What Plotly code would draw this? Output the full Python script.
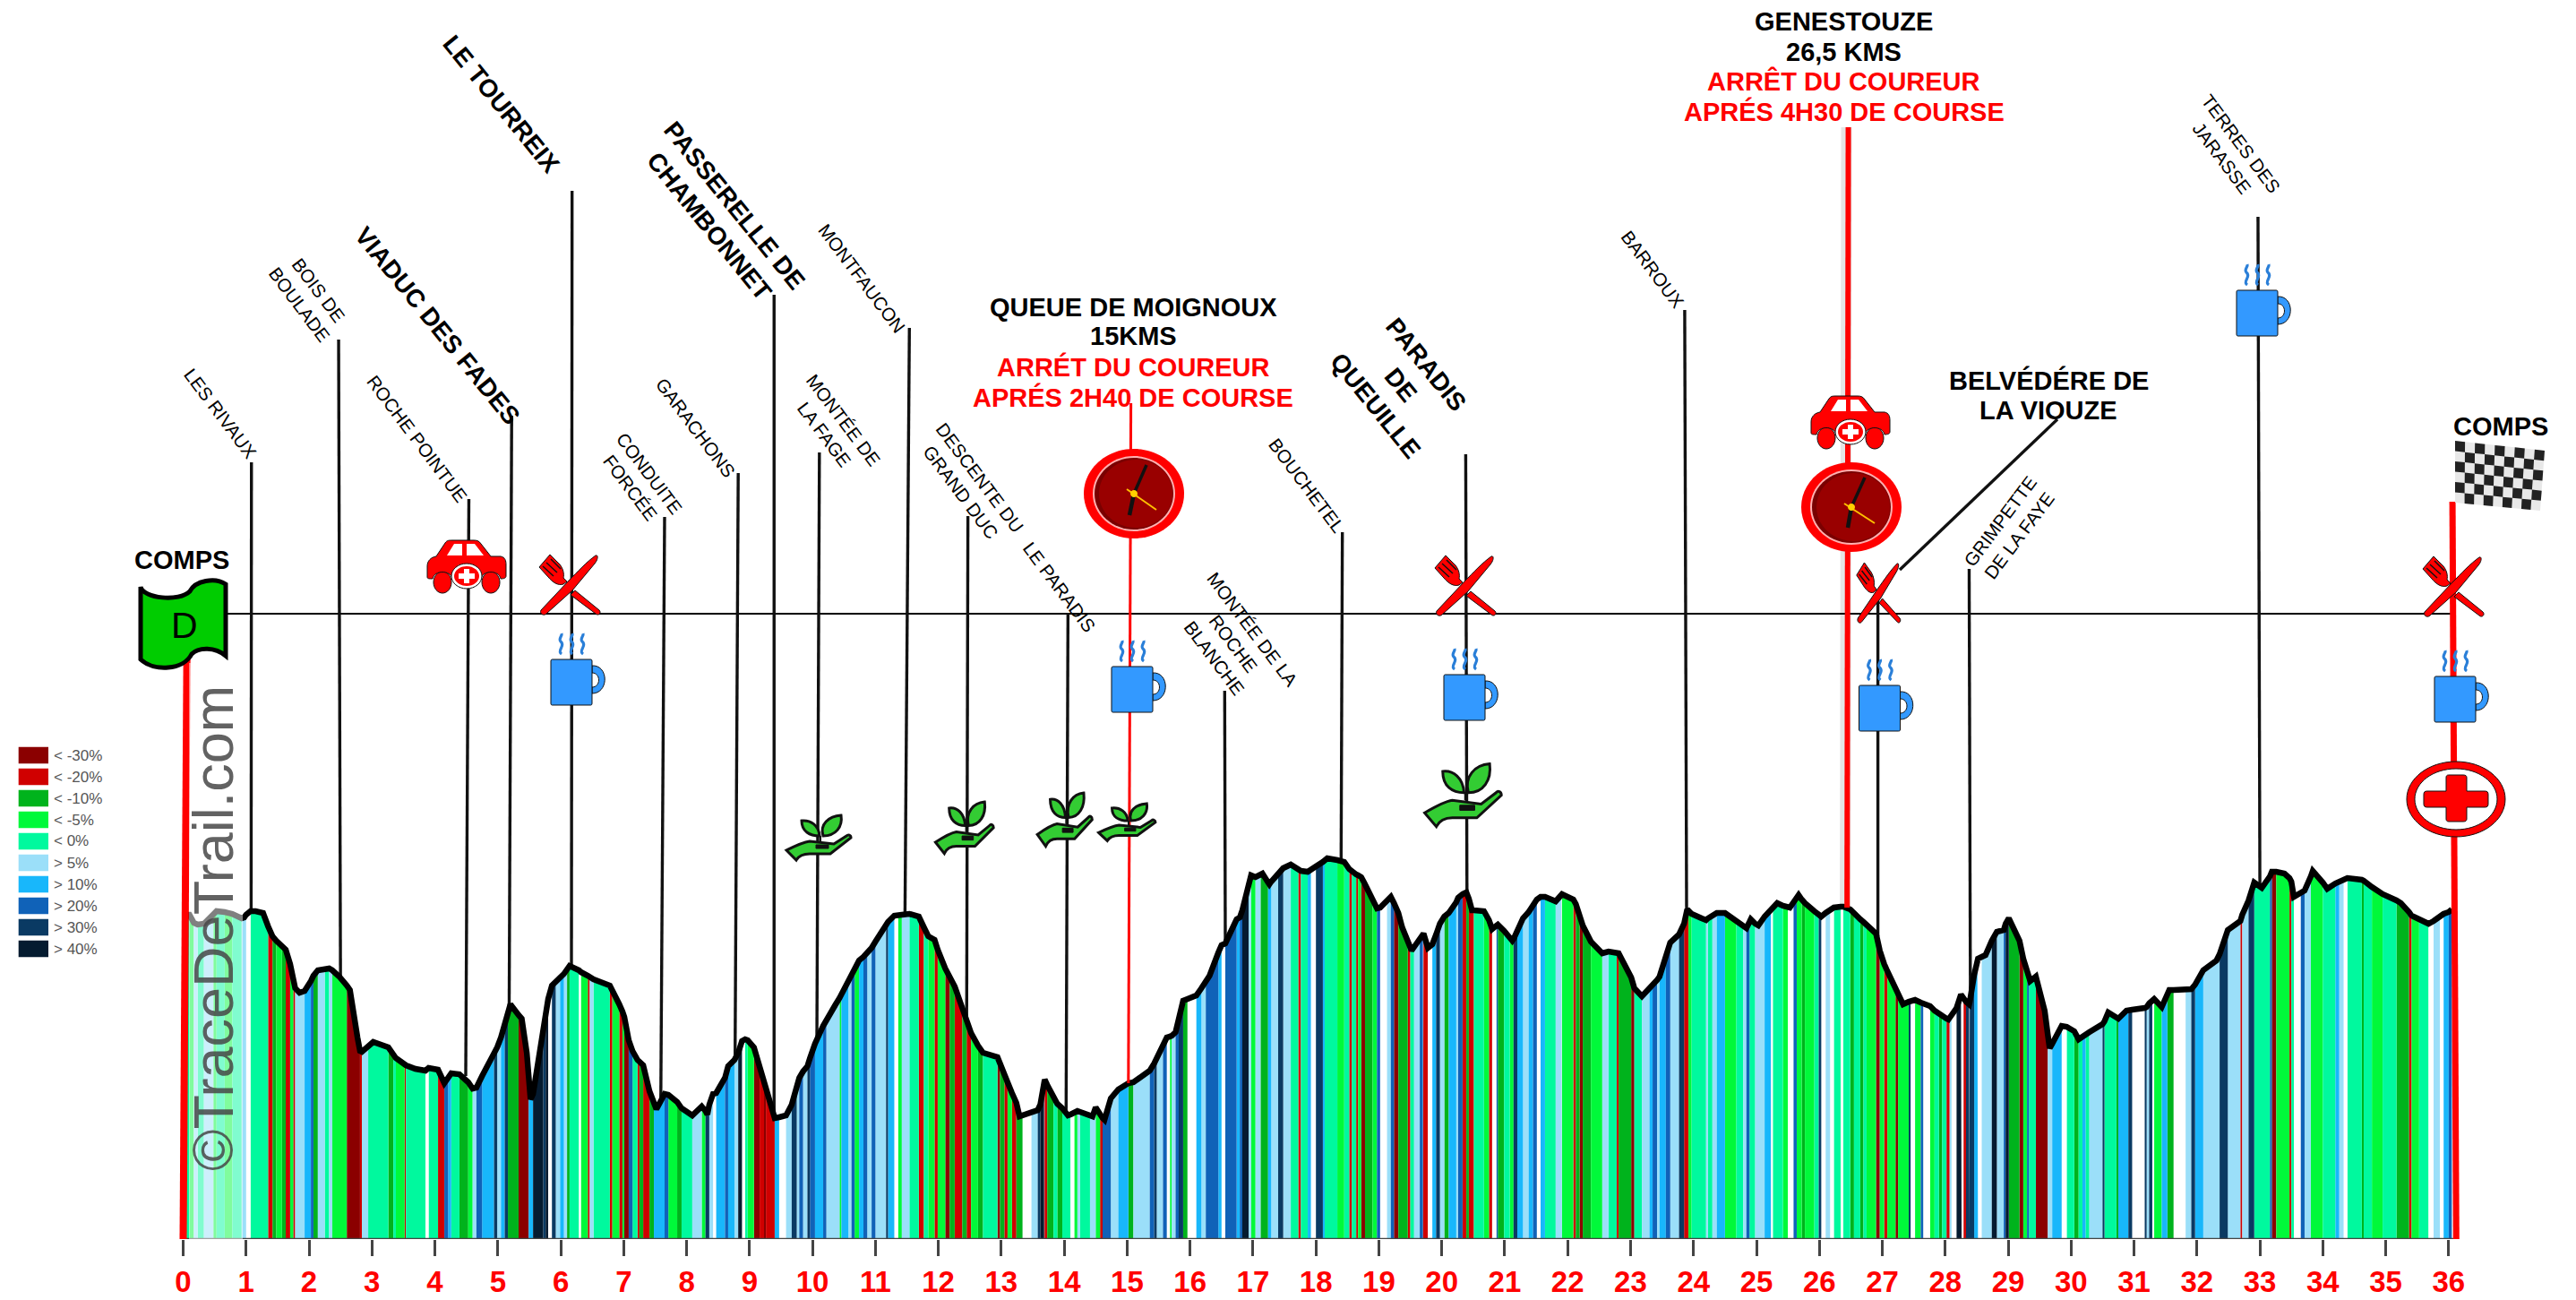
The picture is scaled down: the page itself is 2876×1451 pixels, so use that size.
import plotly.graph_objects as go

W, H, PLOT_H = 2876, 1451, 1383
PX_KM, PX_0 = 70.26, 204.5
FONT = "Liberation Sans"

# ---- profile: end of each stretch (km), altitude there, slope class of the stretch
km = [
 0.00,0.10,0.17,0.23,0.33,0.48,0.53,0.66,0.78,0.93,
 0.97,1.00,1.07,1.15,1.27,1.35,1.42,1.48,1.57,1.63,
 1.70,1.75,1.78,1.85,1.93,
 2.03,2.07,2.14,2.25,2.32,2.37,2.48,2.60,2.65,2.77,
 2.81,2.84,2.94,3.02,3.26,3.34,3.38,3.52,3.54,3.69,
 3.85,3.90,4.05,4.15,4.21,4.26,4.39,4.53,4.60,4.66,
 4.75,4.94,4.99,5.05,5.11,5.16,5.20,5.33,5.38,5.46,
 5.49,5.52,5.56,5.72,5.76,5.80,5.86,5.92,5.99,6.05,
 6.10,6.14,6.29,6.32,6.43,6.46,6.52,6.78,6.82,6.93,
 6.98,7.01,7.08,7.14,7.22,7.25,7.31,7.41,7.48,7.52,
 7.65,7.71,7.85,7.92,8.09,8.24,8.30,8.33,8.36,8.42,
 8.47,8.61,8.66,8.76,8.82,8.88,8.93,8.97,9.07,9.16,
 9.23,9.26,9.33,9.40,9.47,9.58,9.67,9.75,9.79,9.85,
 9.92,9.96,10.04,10.17,10.22,10.36,10.43,10.46,10.57,10.62,
 10.67,10.74,10.81,10.87,10.94,11.00,11.17,11.20,11.30,11.36,
 11.42,11.54,11.69,11.77,11.84,11.94,11.99,12.11,12.18,12.26,
 12.38,12.45,12.52,12.63,12.71,12.94,12.98,13.05,13.10,13.17,
 13.24,13.29,13.34,13.48,13.58,13.62,13.68,13.69,13.73,13.83,
 13.89,13.97,14.06,14.10,14.16,14.21,14.25,14.41,14.45,14.50,
 14.57,14.61,14.64,14.74,14.86,15.02,15.10,15.24,15.36,15.43,
 15.47,15.57,15.63,15.68,15.71,15.77,15.82,15.89,15.96,16.10,
 16.18,16.25,16.31,16.45,16.50,16.56,16.68,16.74,
 16.79,16.83,16.93,16.97,17.04,17.12,17.15,17.24,17.26,17.29,
 17.40,17.48,17.60,17.72,17.76,17.87,17.92,18.00,18.11,18.14,
 18.18,18.34,18.45,18.53,18.57,18.64,18.67,18.72,18.78,18.90,
 18.97,19.02,19.13,19.19,19.24,19.31,19.37,19.46,19.50,19.52,
 19.56,19.65,19.70,19.71,19.78,19.85,19.91,19.97,20.04,20.11,
 20.23,20.26,20.33,20.39,20.43,20.48,20.51,20.67,20.75,20.80,
 20.87,20.89,20.99,21.08,21.12,21.14,21.20,21.29,21.38,21.45,
 21.51,21.57,21.64,21.81,21.90,21.91,22.09,22.13,22.19,22.24,
 22.37,22.55,22.65,22.78,22.81,23.01,23.06,23.18,23.30,23.35,
 23.42,23.46,23.56,23.63,23.77,23.85,23.90,23.92,23.97,24.13,
 24.20,24.23,24.30,24.37,24.50,24.68,24.79,24.84,24.89,24.91,
 24.98,25.03,25.13,25.23,25.26,25.33,25.42,25.50,25.53,25.59,
 25.64,25.67,25.72,25.77,25.92,25.99,26.03,26.10,26.17,26.23,
 26.34,26.38,26.49,26.55,26.65,26.70,26.75,26.90,26.96,27.00,
 27.03,27.08,27.16,27.21,27.25,27.33,27.42,27.45,27.52,27.61,
 27.65,27.76,27.83,27.90,27.95,28.02,28.05,28.07,28.10,28.18,
 28.25,28.26,28.29,28.33,28.38,28.39,28.46,28.51,28.52,28.58,
 28.64,28.74,28.80,28.82,28.93,28.96,29.01,29.18,29.24,29.30,
 29.33,29.35,29.44,29.58,29.63,29.66,29.70,29.85,29.93,30.05,
 30.12,30.18,30.23,30.29,30.50,30.53,30.59,30.72,30.75,30.88,
 30.91,30.97,31.17,31.20,31.24,31.29,31.32,31.44,31.53,31.56,
 31.63,31.82,31.91,31.97,32.10,32.31,32.36,32.49,32.69,32.72,
 32.82,32.91,33.03,33.16,33.19,33.26,33.39,33.47,33.50,33.54,
 33.65,33.71,33.81,33.84,34.00,34.07,34.20,34.26,34.33,34.39,
 34.62,34.65,34.78,34.95,35.17,35.24,35.37,35.41,35.53,35.68,
 35.76,35.86,35.92,36.00,36.05,
]
alt = [
 362,362,353,351,352,364,366,365,363,358,
 359,362,366,366,364,349,338,333,328,323,
 307,290,280,275,277,
 288,294,300,302,302,300,293,283,278,225,
 210,209,214,220,214,205,202,195,194,190,
 188,191,189,174,180,185,184,175,168,169,
 182,206,214,225,238,252,262,250,246,208,
 180,156,162,230,248,268,283,287,291,296,
 301,305,300,298,294,292,290,283,278,262,
 254,248,222,210,200,198,194,165,150,145,
 162,161,153,146,138,148,143,139,150,162,
 163,180,193,200,208,221,223,222,214,193,
 177,167,150,135,136,138,150,172,180,187,
 193,202,218,238,245,261,269,273,286,292,
 300,311,315,319,325,332,350,354,361,361,
 362,363,360,348,338,334,323,302,294,282,
 258,243,230,216,208,203,195,185,175,163,
 152,137,138,141,144,150,175,178,172,157,
 151,146,138,139,141,143,142,138,137,147,
 138,135,133,157,167,174,175,183,188,196,
 202,216,225,226,227,231,247,266,268,272,
 280,287,294,320,328,330,348,357,
 359,367,395,406,404,406,408,398,396,399,
 408,414,418,412,411,410,413,416,421,423,
 425,423,421,413,410,407,406,404,396,379,
 369,370,377,382,375,364,348,332,326,322,
 326,336,340,341,325,329,340,352,360,364,
 376,381,385,387,380,367,367,366,356,346,
 350,351,344,336,333,335,345,358,365,372,
 379,382,382,377,385,385,379,374,361,350,
 332,319,321,319,319,292,280,271,279,284,
 289,293,313,331,340,352,368,366,363,358,
 356,358,361,364,364,354,348,347,354,357,
 352,350,360,368,370,375,372,370,370,376,
 381,384,379,375,366,362,360,364,368,370,
 371,371,368,363,357,354,351,341,322,311,
 307,299,287,279,274,262,265,266,267,264,
 263,260,255,251,248,246,245,247,248,258,
 273,272,268,265,262,265,295,313,313,315,
 317,333,343,343,345,352,358,333,313,297,
 290,288,293,255,228,213,218,238,237,232,
 223,226,229,231,240,243,253,248,246,255,
 255,256,258,259,263,267,268,259,272,278,
 278,278,279,284,300,311,318,345,355,362,
 378,398,392,405,410,410,408,403,399,382,
 386,389,405,411,398,391,397,399,401,403,
 401,400,393,385,378,375,365,361,357,352,
 355,360,363,365,368,
]
grade = list(
 "eedfefdede"
 "ffweeebcdc"
 "bdbff"
 "ghcfefddaa"
 "abfeecedbe"
 "ewebhgecdf"
 "hgifgiccaa"
 "aggjijwifg"
 "fcewdbfebd"
 "bdahebcbcg"
 "ghdcefdiif"
 "wghgfjweda"
 "babbgwfifh"
 "fihghffdgf"
 "hdghfhfigw"
 "dfebedbdac"
 "bcbdceacbd"
 "bccwfijabc"
 "eceewdfeff"
 "dbhhfgcffh"
 "ifhwdfhicw"
 "gfhhgwhh"
 "ghjfdfccgg"
 "fifebegwig"
 "eedebebdac"
 "dhwfhaccbe"
 "efhbbwgifc"
 "gfhbcbbedb"
 "whceddigfg"
 "hwgeffdbca"
 "cdfebcaefg"
 "hfghfibbde"
 "efefgdefhe"
 "effgweedww"
 "hddcdeiwfw"
 "ewececedad"
 "dbddaddiwd"
 "hwdecebbfw"
 "jjwbiiiggw"
 "ffjjfhjcad"
 "heeaaffgwe"
 "cegefieecg"
 "giwifiwdgc"
 "cwfigffifb"
 "fieehaddbe"
 "whfddeegfw"
 "ecedeccbde"
 "wfwgh"
)

grade_names = ["a", "b", "c", "d", "e", "w", "f", "g", "h", "i", "j"]
grade_colors = ["#8b0000", "#d00000", "#00b31c", "#00f93a", "#00f99e", "#ffffff",
                "#9bdff9", "#18b7fb", "#1062b8", "#0a3a63", "#051b30"]

legend_labels = ["< -30%", "< -20%", "< -10%", "< -5%", "< 0%", "> 5%", "> 10%", "> 20%", "> 30%", "> 40%"]
legend_colors = ["#8b0000", "#d00000", "#00b31c", "#00f93a", "#00f99e",
                 "#9bdff9", "#18b7fb", "#1062b8", "#0a3a63", "#051b30"]

km_ticks = list(range(0, 37))

# ---- leader lines: foot on the profile, head in the air
lead_names = ["LES RIVAUX", "BOIS DE BOULADE", "ROCHE POINTUE", "VIADUC DES FADES", "LE TOURREIX",
              "CONDUITE FORCEE", "GARACHONS", "PASSERELLE", "MONTEE LA FAGE", "MONTFAUCON", "GRAND DUC",
              "LE PARADIS", "ROCHE BLANCHE", "BOUCHETEL", "PARADIS QUEUILLE", "BARROUX", "BELVEDERE",
              "GRIMPETTE", "TERRES DES JARASSE"]
lead_km_foot = [1.08, 2.50, 4.49, 5.18, 6.17, 7.59, 8.77, 9.39, 10.07, 11.47, 12.45, 14.03, 16.56, 18.40, 20.40,
                23.89, 26.93, 28.40, 33.00]
lead_km_head = [1.085, 2.47, 4.54, 5.22, 6.18, 7.65, 8.82, 9.39, 10.11, 11.54, 12.47, 14.06, 16.55, 18.42, 20.38,
                23.86, 26.93, 28.38, 32.97]
lead_alt_foot = [366, 292, 182, 255, 304, 157, 200, 135, 225, 362, 245, 140, 330, 422, 387, 365, 338, 265, 392]
lead_alt_head = [867, 1004, 826, 919, 1170, 806, 855, 1054, 878, 1017, 807, 699, 612, 789, 876, 1037, 716, 748, 1141]


def X(px):
    return (px - PX_0) / PX_KM


def Y(py):
    return PLOT_H - py


assert len(km) == len(alt) == len(grade), (len(km), len(alt), len(grade))

fig = go.Figure()

# coloured stretches
for name, col in zip(grade_names, grade_colors):
    xs, ys = [], []
    for i in range(1, len(km)):
        if grade[i] == name:
            xs += [km[i - 1], km[i - 1], km[i], km[i], None]
            ys += [0, alt[i - 1], alt[i], 0, None]
    fig.add_trace(go.Scatter(x=xs, y=ys, mode="lines", fill="toself", fillcolor=col,
                             line=dict(width=0), hoverinfo="skip", showlegend=False))


def seg(xs, ys, color, width):
    fig.add_trace(go.Scatter(x=xs, y=ys, mode="lines", line=dict(color=color, width=width),
                             hoverinfo="skip", showlegend=False, cliponaxis=False))


# baseline and reference altitude line
seg([0, 36.1], [0, 0], "#444444", 2.5)
seg([X(252), X(2740)], [Y(685), Y(685)], "#000000", 1.8)

# leader lines
lx, ly = [], []
for a, b, c, d in zip(lead_km_foot, lead_km_head, lead_alt_foot, lead_alt_head):
    lx += [a, b, None]
    ly += [c, d, None]
lx += [X(2121), X(2297)]
ly += [Y(636), Y(468)]
seg(lx, ly, "#111111", 3.4)

# profile
seg(km, alt, "#000000", 6.5)

# red lines
seg([15.02, 15.06], [174, 933], "#ff0000", 3)
seg([26.41, 26.43], [370, 1241], "rgba(0,0,0,0.10)", 12)
seg([26.44, 26.46], [370, 1241], "#ff0000", 6)
seg([0.0, 0.06], [0, 657], "#ff0000", 8)
seg([36.12, 36.06], [0, 823], "#ff0000", 7)

shapes = []


def tr(d, cx, cy, sx=1.0, sy=1.0):
    out, isx = [], True
    for t in d.replace(",", " ").split():
        if t.isalpha():
            out.append(t)
            isx = True
        else:
            v = float(t)
            if isx:
                out.append(f"{(cx + sx * v) / W:.5f}")
            else:
                out.append(f"{(PLOT_H - (cy + sy * v)) / PLOT_H:.5f}")
            isx = not isx
    return " ".join(out)


def add(d, cx, cy, sx=1.0, sy=1.0, fill=None, line=None, lw=1.0, op=None):
    s = dict(type="path", xref="paper", yref="paper", layer="above", path=tr(d, cx, cy, sx, sy),
             line=dict(color=line or "rgba(0,0,0,0)", width=lw if line else 0))
    if fill:
        s["fillcolor"] = fill
    if op is not None:
        s["opacity"] = op
    shapes.append(s)


def ell(x, y, rx, ry):
    k = 0.5523
    return (f"M {x-rx} {y} C {x-rx} {y-k*ry} {x-k*rx} {y-ry} {x} {y-ry} "
            f"C {x+k*rx} {y-ry} {x+rx} {y-k*ry} {x+rx} {y} "
            f"C {x+rx} {y+k*ry} {x+k*rx} {y+ry} {x} {y+ry} "
            f"C {x-k*rx} {y+ry} {x-rx} {y+k*ry} {x-rx} {y} Z")


def mug(cx, cy):
    add("M 23 7 C 42 6 42 38 23 38 L 23 31 C 33 31 33 15 23 15 Z", cx, cy, fill="#3399ff", line="#111111", lw=1)
    add("M -23 2 C -23 0 -22 0 -21 0 L 21 0 C 22 0 23 0 23 2 L 23 49 C 23 51 22 51 21 51 L -21 51 C -22 51 -23 51 -23 49 Z",
        cx, cy, fill="#3399ff", line="#111111", lw=1)
    for dx in (-12, 0, 12):
        add("M 1 -6 C -5 -10 6 -15 0 -20 C -3 -23 2 -26 1 -29", cx + dx, cy, line="#2a7fd8", lw=3.2)


def fork(cx, cy, sx=1.0, sy=1.0):
    # fork handle
    add("M 5 6 L 32 28 C 35 31 31 35 28 32 L 0 11 Z", cx, cy, sx, sy, fill="#ff0000", line="#111111", lw=1)
    # knife
    add("M -33 28 C -35 32 -30 35 -27 32 L 2 6 L 27 -24 C 31 -29 31 -34 28 -33 C 18 -26 8 -15 -2 -5 Z",
        cx, cy, sx, sy, fill="#ff0000", line="#111111", lw=1)
    # fork head
    add("M -4 -4 L -8 -1 C -14 1 -20 -3 -25 -9 L -35 -20 L -23 -34 L -12 -23 C -8 -18 -7 -12 -8 -8 Z",
        cx, cy, sx, sy, fill="#ff0000", line="#111111", lw=1)
    add("M -31 -21 L -19 -10 M -27 -25 L -15 -14 M -22 -29 L -11 -18", cx, cy, sx, sy, line="#111111", lw=1.5)


def car(cx, cy):
    add(ell(-27, 18, 10, 12), cx, cy, fill="#ff0000", line="#111111", lw=1)
    add(ell(27, 18, 10, 12), cx, cy, fill="#ff0000", line="#111111", lw=1)
    add("M -44 12 L -44 0 C -44 -6 -40 -10 -34 -11 L -24 -26 C -22 -29 -20 -29 -16 -29 L 8 -29 C 12 -29 14 -28 16 -25 "
        "L 27 -11 L 38 -11 C 43 -10 44 -6 44 -2 L 44 11 C 44 13 42 14 38 14 C 36 4 18 4 16 14 L -16 14 C -18 4 -36 4 -38 14 C -42 14 -44 14 -44 12 Z",
        cx, cy, fill="#ff0000", line="#111111", lw=1)
    add("M -22 -12 L -14 -25 L -5 -25 L -5 -12 Z M 0 -25 L 9 -25 L 19 -12 L 0 -12 Z", cx, cy, fill="#ffffff")
    add(ell(0, 11, 17, 14), cx, cy, fill="#ffffff", line="#111111", lw=1)
    add(ell(0, 11, 14, 11), cx, cy, fill="#ff0000")
    add("M -3 3 L 3 3 L 3 8 L 9 8 L 9 14 L 3 14 L 3 19 L -3 19 L -3 14 L -9 14 L -9 8 L -3 8 Z", cx, cy, fill="#ffffff")


def plant(cx, cy, sx=1.0, sy=1.0):
    add("M -34 13 L -23 24 C -20 19 -14 17 -8 17 L 15 17 L 38 -1 C 38 -4 35 -5 33 -3 L 19 6 L -8 3 C -16 4 -26 9 -34 13 Z",
        cx, cy, sx, sy, fill="#33cc33", line="#111111", lw=3)
    add("M -1 7 L 13 7 L 13 11 L -1 11 Z", cx, cy, sx, sy, fill="#111111", line="#111111", lw=1)
    add("M 3 -3 C -8 -3 -17 -8 -17 -20 C -7 -21 2 -15 3 -3 Z", cx, cy, sx, sy, fill="#33cc33", line="#111111", lw=3)
    add("M 7 -3 C 3 -16 13 -25 27 -26 C 29 -13 21 -3 7 -3 Z", cx, cy, sx, sy, fill="#33cc33", line="#111111", lw=3)
    add("M 4 -3 L 4 3", cx, cy, sx, sy, line="#111111", lw=2)


def clock(cx, cy, tip1, tip2, ya, yb):
    add(ell(0, 0, 56, 50), cx, cy, fill="#ff0000")
    add(ell(0, 0, 46, 42), cx, cy, fill="#ffb0b0")
    add(ell(0, 0, 44, 40), cx, cy, fill="#7a0000")
    add(ell(2, 0, 41, 38), cx, cy, fill="#990000")
    add(f"M 0 0 L {tip1[0]} {tip1[1]}", cx, cy, line="#111111", lw=3.5)
    add(f"M 0 0 L {tip2[0]} {tip2[1]}", cx, cy, line="#111111", lw=4.5)
    add(f"M {ya[0]} {ya[1]} L {yb[0]} {yb[1]}", cx, cy, line="#ffc000", lw=2)
    add(ell(0, 0, 4, 4), cx, cy, fill="#ffd000")


def first_aid(cx, cy):
    add(ell(0, 0, 55, 42), cx, cy, fill="#ff0000", line="#111111", lw=1)
    add(ell(0, 0, 46, 34), cx, cy, fill="#ffffff", line="#111111", lw=1)
    add("M -11 -24 C -11 -27 -9 -27 -8 -27 L 8 -27 C 11 -27 12 -26 12 -24 L 12 -9 L 32 -9 C 35 -9 36 -8 36 -5 L 36 5 "
        "C 36 8 35 9 32 9 L 12 9 L 12 22 C 12 24 11 25 8 25 L -8 25 C -10 25 -11 24 -11 22 L -11 9 L -32 9 "
        "C -35 9 -36 8 -36 5 L -36 -5 C -36 -8 -35 -9 -32 -9 L -11 -9 Z",
        cx, cy, fill="#ff0000", line="#111111", lw=1)


def checker():
    p00, p10, p11, p01 = (2741, 492), (2841, 503), (2836, 570), (2741, 561)
    nc, nr = 9, 6

    def pt(u, v):
        ax = p00[0] + (p10[0] - p00[0]) * u
        ay = p00[1] + (p10[1] - p00[1]) * u
        bx = p01[0] + (p11[0] - p01[0]) * u
        by = p01[1] + (p11[1] - p01[1]) * u
        return ax + (bx - ax) * v, ay + (by - ay) * v

    add(f"M {p00[0]} {p00[1]} L {p10[0]} {p10[1]} L {p11[0]} {p11[1]} L {p01[0]} {p01[1]} Z", 0, 0, fill="#e8e8e8")
    d = []
    for c in range(nc):
        for r in range(nr):
            if (c + r) % 2 == 0:
                q = [pt(c / nc, r / nr), pt((c + 1) / nc, r / nr), pt((c + 1) / nc, (r + 1) / nr), pt(c / nc, (r + 1) / nr)]
                d.append(f"M {q[0][0]:.1f} {q[0][1]:.1f} L {q[1][0]:.1f} {q[1][1]:.1f} "
                         f"L {q[2][0]:.1f} {q[2][1]:.1f} L {q[3][0]:.1f} {q[3][1]:.1f} Z")
    add(" ".join(d), 0, 0, fill="#222222")


# wash over the first km (behind the watermark)
add("M 211 740 L 271 740 L 271 1383 L 211 1383 Z", 0, 0, fill="#ffffff", op=0.5)

# start flag
add("M 157 655 C 160 668 200 672 212 660 C 218 648 240 644 252 652 L 252 732 C 240 722 222 722 214 730 "
    "C 205 748 172 750 157 736 Z", 0, 0, fill="#00cc00", line="#000000", lw=5)

for c in [(638, 736), (1264, 744), (1635, 753), (2098.5, 765), (2741, 755), (2520, 324)]:
    mug(*c)
fork(637, 653)
fork(1637, 654)
fork(2098, 662, 0.72, 1.0)
fork(2740, 655)
car(521, 632)
car(2066, 471)
plant(912, 936)
plant(1075, 925, 0.9, 1.15)
plant(1187, 916, 0.85, 1.19)
plant(1256.5, 918.5, 0.88, 0.83)
plant(1631, 889, 1.19, 1.4)
clock(1266, 551, (14, -32), (-5, 24), (-8, -5), (25, 18))
clock(2067, 566, (15, -33), (-4, 23), (-8, -4), (26, 18))
first_aid(2742, 892)
checker()

# legend swatches
for i, c in enumerate(legend_colors):
    shapes.append(dict(type="rect", xref="paper", yref="paper", layer="above",
                       x0=20.7 / W, x1=54 / W,
                       y0=(PLOT_H - (833.7 + 24 * i + 18.6)) / PLOT_H, y1=(PLOT_H - (833.7 + 24 * i)) / PLOT_H,
                       fillcolor=c, line=dict(width=0)))

ann = []


def text(t, px, py, size, angle=0, color="#000000", bold=False, xanchor="center"):
    ann.append(dict(text=f"<b>{t}</b>" if bold else t, x=px / W, y=(PLOT_H - py) / PLOT_H, xref="paper", yref="paper",
                    xanchor=xanchor, yanchor="middle", showarrow=False, textangle=angle, align="center",
                    font=dict(family=FONT, size=size, color=color)))


for i, l in enumerate(legend_labels):
    text(l, 58, 843 + 24 * i, 17, color="#555555", xanchor="left")

A = 53
for t, x, y in [("LES RIVAUX", 246, 462), ("BOIS DE<br>BOULADE", 345, 332), ("ROCHE POINTUE", 466, 489),
                ("CONDUITE<br>FORCÉE", 714, 536), ("GARACHONS", 777, 477), ("MONTÉE DE<br>LA FAGE", 931, 477),
                ("MONTFAUCON", 962, 311), ("DESCENTE DU<br>GRAND DUC", 1083, 541), ("LE PARADIS", 1182, 655),
                ("MONTÉE DE LA<br>ROCHE<br>BLANCHE", 1377, 718), ("BOUCHETEL", 1459, 541), ("BARROUX", 1845, 301),
                ("TERRES DES<br>JARASSE", 2491, 168)]:
    text(t, x, y, 20.5, angle=A)
text("GRIMPETTE<br>DE LA FAYE", 2243.5, 590, 20.5, angle=-A)

for t, x, y in [("VIADUC DES FADES", 488.6, 363), ("LE TOURREIX", 560, 116),
                ("PASSERELLE DE<br>CHAMBONNET", 806, 240), ("PARADIS<br>DE<br>QUEUILLE", 1564, 430)]:
    text(t, x, y, 28, angle=51, bold=True)

text("COMPS", 203, 625, 29, bold=True)
text("COMPS", 2792, 476, 29, bold=True)
text("D", 206, 698, 41)
text("QUEUE DE MOIGNOUX", 1265, 342.5, 29, bold=True)
text("15KMS", 1265, 375, 29, bold=True)
text("ARRÉT DU COUREUR", 1265, 409.5, 29, color="#ff0000", bold=True)
text("APRÉS 2H40 DE COURSE", 1265, 443, 29, color="#ff0000", bold=True)
text("GENESTOUZE", 2058.7, 24, 29, bold=True)
text("26,5 KMS", 2058.7, 57.6, 29, bold=True)
text("ARRÊT DU COUREUR", 2058.7, 91, 29, color="#ff0000", bold=True)
text("APRÉS 4H30 DE COURSE", 2058.7, 124, 29, color="#ff0000", bold=True)
text("BELVÉDÉRE DE", 2287, 424, 29, bold=True)
text("LA VIOUZE", 2287, 457.5, 29, bold=True)
text("©TraceDeTrail.com", 238, 1036, 63, angle=-90, color="rgba(70,70,70,0.85)")

fig.update_layout(
    width=W, height=H, autosize=False,
    margin=dict(l=0, r=0, t=0, b=H - PLOT_H, pad=0),
    paper_bgcolor="white", plot_bgcolor="white", showlegend=False,
    shapes=shapes, annotations=ann,
    xaxis=dict(range=[X(0), X(W)], tickmode="array", tickvals=km_ticks,
               ticktext=[f"<b>{k}</b>" for k in km_ticks],
               tickfont=dict(family=FONT, size=33, color="#ff0000"),
               ticks="outside", ticklen=18, tickwidth=3, tickcolor="#444444",
               showgrid=False, zeroline=False, showline=False, tickangle=0),
    yaxis=dict(range=[0, PLOT_H], visible=False, showgrid=False, zeroline=False),
)

fig.write_html("out.html", config={"displayModeBar": False},
               post_script="document.body.style.margin='0';document.body.style.overflow='hidden';")
